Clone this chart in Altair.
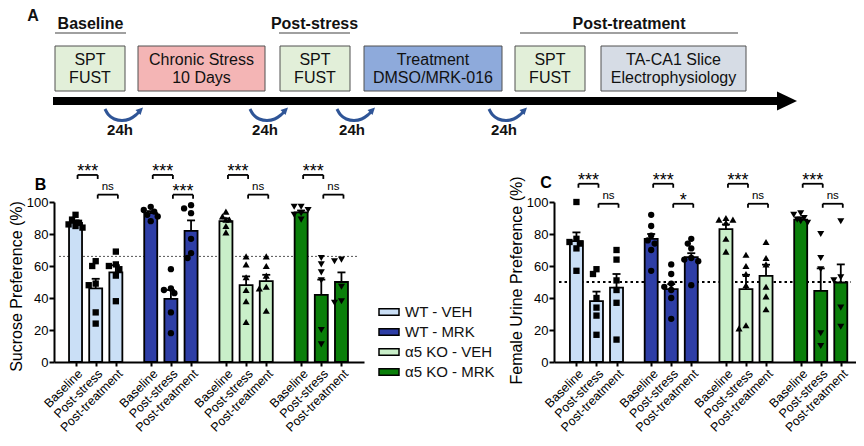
import altair as alt
import pandas as pd

FONT = "Liberation Sans"

# ============================ Panel A (timeline) ============================
box_line1 = ["SPT", "Chronic Stress", "SPT", "Treatment", "SPT", "TA-CA1 Slice"]
box_line2 = ["FUST", "10 Days", "FUST", "DMSO/MRK-016", "FUST", "Electrophysiology"]
box_start = [53, 136, 278, 362, 513, 599]
box_end = [123, 263, 348, 500, 583, 744]
box_fill = ["#e2efd9", "#f4b5b5", "#e2efd9", "#8eaadb", "#e2efd9", "#d6dce5"]

stage_titles = ["Baseline", "Post-stress", "Post-treatment"]
stage_start = [53, 277, 518]
stage_end = [124, 348, 736]

gap_starts = [103, 248, 335, 487]
gap_label = "24h"
timeline_start = 51
timeline_end = 776

curve_dx = [0, 3, 9, 17, 25, 31, 34]
curve_dy = [0, 6, 10.5, 12, 10.5, 6, 3]

# ============================ Panels B / C data ============================
groups = ["WT - VEH", "WT - MRK", "\u03b15 KO - VEH", "\u03b15 KO - MRK"]
phases = ["Baseline", "Post-stress", "Post-treatment"]
group_colors = ["#cadff6", "#2e3ea6", "#c9efc9", "#0a7f0a"]
group_shapes = ["square", "circle", "triangle-up", "triangle-down"]

# Sucrose preference (B)
sp_mean_wt_veh = [87, 46, 56]
sp_mean_wt_mrk = [93, 39.5, 82]
sp_mean_ko_veh = [88, 48, 50.5]
sp_mean_ko_mrk = [93.5, 42, 50]
sp_sem_wt_veh = [1.5, 6, 4.5]
sp_sem_wt_mrk = [1.3, 5.5, 6.5]
sp_sem_ko_veh = [1.8, 5.5, 4]
sp_sem_ko_mrk = [1.2, 9.5, 6]
sp_pts_wt_veh = [[92, 89, 87, 86, 85, 84], [63, 60, 49, 48, 31, 24], [69, 61, 60, 58, 54, 38]]
sp_pts_wt_mrk = [[97, 95, 94, 92, 91, 88], [58, 46, 45, 43, 31, 18], [98, 96, 93, 77, 68, 65]]
sp_pts_ko_veh = [[94, 91, 89, 89, 85, 81], [66, 61, 53, 45, 38, 25], [66, 60, 54, 47, 46, 32]]
sp_pts_ko_mrk = [[97, 97, 95, 93, 92, 89], [65, 61, 56, 51, 20, 11], [64, 63, 47, 38, 37]]
sp_sig_low = ["ns", "***", "ns", "ns"]

# Female urine preference (C)
fu_mean_wt_veh = [75.5, 38, 46.5]
fu_mean_wt_mrk = [77, 45.5, 65.5]
fu_mean_ko_veh = [83, 45.5, 53.8]
fu_mean_ko_mrk = [89, 44.5, 49.7]
fu_sem_wt_veh = [5.5, 6, 8.5]
fu_sem_wt_mrk = [3, 3.2, 2.5]
fu_sem_ko_veh = [3, 9, 7]
fu_sem_ko_mrk = [1.3, 14, 11.3]
fu_pts_wt_veh = [[100, 77, 75, 74, 71, 57], [58, 55, 40, 34, 29, 17], [70, 64, 51, 45, 37, 14]]
fu_pts_wt_mrk = [[92, 85, 79, 76, 74, 70, 57], [61, 55, 49, 47, 45, 40, 27], [77, 74, 71, 65, 64, 63, 48]]
fu_pts_ko_veh = [[90, 89, 89, 87, 77, 69], [67, 60, 55, 48, 23, 21], [75, 65, 61, 47, 41, 33]]
fu_pts_ko_mrk = [[93, 92, 90, 89, 88, 87], [80, 65, 58, 18, 10], [88, 53, 51, 34, 22]]
fu_sig_low = ["ns", "*", "ns", "ns"]

# ============================ Layout (one shared canvas) ============================
W, H = 802, 354          # canvas: x from the B y-axis, y from top down to the x-axes
ORIGIN_X, ORIGIN_Y = 52, 8
Y0_PX, Y100_PX = 354, 194  # y-range of panels B and C (0 -> 100)

# ============================ Panel A chart ============================
def ax(f):
    return alt.X(f, type="quantitative",
                 scale=alt.Scale(domain=[ORIGIN_X, ORIGIN_X + 800], range=[0, 800], nice=False, zero=False),
                 axis=None)


def ay(f):
    return alt.Y(f, type="quantitative",
                 scale=alt.Scale(domain=[ORIGIN_Y, ORIGIN_Y + H], range=[0, H], nice=False, zero=False),
                 axis=None)


boxes = pd.DataFrame(dict(
    x0=box_start, x1=box_end,
    xc=[(a + b) / 2 for a, b in zip(box_start, box_end)],
    y0=[46] * 6, y1=[91] * 6, ty1=[59.5] * 6, ty2=[77.5] * 6,
    fill=box_fill, t1=box_line1, t2=box_line2))
stages = pd.DataFrame(dict(
    x0=stage_start, x1=stage_end,
    xc=[(a + b) / 2 for a, b in zip(stage_start, stage_end)],
    y=[29] * 3, yr=[33] * 3, t=stage_titles))
tl = pd.DataFrame(dict(x0=[timeline_start], x1=[timeline_end], y0=[97], y1=[105],
                       xh=[timeline_end + 9], yh=[101], lab=["A"], lx=[31], ly=[8]))
curve_rows = []
for ci, s in enumerate(gap_starts):
    for k, (dx, dy) in enumerate(zip(curve_dx, curve_dy)):
        curve_rows.append(dict(cid=ci, o=k, x=s + dx, y=109 + dy))
curves = pd.DataFrame(curve_rows)
heads = pd.DataFrame(dict(x=[s + 35.5 for s in gap_starts], y=[110] * 4,
                          tx=[s + 15 for s in gap_starts], ty=[135] * 4, t=[gap_label] * 4))

a_layers = [
    alt.Chart(boxes).mark_rect(stroke="#505050", strokeWidth=1).encode(
        x=ax("x0"), x2="x1", y=ay("y0"), y2="y1", fill=alt.Fill("fill:N", scale=None)),
    alt.Chart(boxes).mark_text(fontSize=16, color="#111", font=FONT).encode(x=ax("xc"), y=ay("ty1"), text="t1:N"),
    alt.Chart(boxes).mark_text(fontSize=16, color="#111", font=FONT).encode(x=ax("xc"), y=ay("ty2"), text="t2:N"),
    alt.Chart(stages).mark_text(fontSize=16, fontWeight="bold", baseline="alphabetic", color="#111", font=FONT).encode(
        x=ax("xc"), y=ay("y"), text="t:N"),
    alt.Chart(stages).mark_rule(color="#808080", strokeWidth=1.5).encode(x=ax("x0"), x2="x1", y=ay("yr")),
    alt.Chart(tl).mark_rect(color="black").encode(x=ax("x0"), x2="x1", y=ay("y0"), y2="y1"),
    alt.Chart(tl).mark_point(shape="M-1,-0.95L1,0L-1,0.95Z", filled=True, size=400, color="black", opacity=1).encode(
        x=ax("xh"), y=ay("yh")),
    alt.Chart(tl).mark_text(fontSize=16, fontWeight="bold", baseline="top", color="#111", font=FONT).encode(
        x=ax("lx"), y=ay("ly"), text="lab:N"),
    alt.Chart(curves).mark_line(color="#2f5597", strokeWidth=3, interpolate="basis").encode(
        x=ax("x"), y=ay("y"), detail="cid:N", order="o:Q"),
    alt.Chart(heads).mark_point(shape="M-1,-1L1,0L-1,1Z", filled=True, size=50, angle=315, color="#2f5597",
                                opacity=1).encode(x=ax("x"), y=ay("y")),
    alt.Chart(heads).mark_text(fontSize=15, fontWeight="bold", baseline="alphabetic", color="#111", font=FONT).encode(
        x=ax("tx"), y=ay("ty"), text="t:N"),
]
panel_a = alt.layer(*a_layers)

# ============================ Panels B / C ============================
GAP = 3.73
positions = [g * GAP + i for g in range(4) for i in range(3)]
kexpr = f"(round(datum.value*100) % {int(round(GAP * 100))})"
label_expr = f"{kexpr} == 0 ? '{phases[0]}' : {kexpr} == 100 ? '{phases[1]}' : '{phases[2]}'"
shape_sizes = {"square": 40, "circle": 40, "triangle-up": 50, "triangle-down": 50}


def swarm(vals, pxx, pxy, d=6.0):
    placed, offs = [], []
    cands = [0, -0.6, 0.6, -1.2, 1.2]
    for v in vals:
        best = None
        for c in cands:
            xo = c * d
            if all((xo - px) ** 2 + ((v - pv) * pxy) ** 2 >= 0.75 * d * d for px, pv in placed):
                best = xo
                break
        if best is None:
            best = 0
        placed.append((best, v))
        offs.append(best / pxx)
    return offs


def make_panel(letter, ytitle, means, sems, pts, ref_y, ref_dash, ref_w, ref_color,
               top_y, low_y, low_labels, xdom, xrange, letter_dx, letter_y, title_y, legend):
    pxx = (xrange[1] - xrange[0]) / (xdom[1] - xdom[0])
    pxy = (Y0_PX - Y100_PX) / 100.0
    xaxis = alt.Axis(values=positions, labelExpr=label_expr, labelAngle=-45, labelOverlap=False,
                     labelFlush=False, grid=False, title=None, orient="bottom",
                     labelFontSize=12.5, labelFont=FONT, labelColor="black", labelPadding=1,
                     tickColor="black", tickWidth=2, tickSize=4, domainColor="black", domainWidth=2)
    yaxis = alt.Axis(values=[0, 20, 40, 60, 80, 100], grid=False, orient="left", offset=-xrange[0],
                     domainColor="black", domainWidth=2, title=ytitle,
                     titleFontSize=16, titleFontWeight="normal", titleFont=FONT, titleColor="black",
                     titleX=-30, titleY=title_y, titleAngle=270, titleAlign="center", titleBaseline="bottom",
                     labelFontSize=13, labelFont=FONT, labelColor="black", labelPadding=1, labelOverlap=False,
                     tickColor="black", tickWidth=2, tickSize=5)

    def X(f):
        return alt.X(f"{f}:Q", scale=alt.Scale(domain=xdom, range=xrange, nice=False, zero=False), axis=xaxis)

    def Y(f):
        return alt.Y(f"{f}:Q", scale=alt.Scale(domain=[0, 100], range=[Y0_PX, Y100_PX], nice=False, zero=False),
                     axis=yaxis)

    bar_rows, pt_rows = [], []
    for g, grp in enumerate(groups):
        for i, ph in enumerate(phases):
            p = g * GAP + i
            bar_rows.append(dict(x=p, y=means[g][i], top=means[g][i] + sems[g][i], zero=0, group=grp))
            vals = pts[g][i]
            for v, o in zip(vals, swarm(vals, pxx, pxy)):
                pt_rows.append(dict(x=p + o, v=v, shp=group_shapes[g], sz=shape_sizes[group_shapes[g]]))
    bars = pd.DataFrame(bar_rows)
    ptsdf = pd.DataFrame(pt_rows)

    br_rows, leg_rows, txt_rows = [], [], []
    for g in range(4):
        for (i, j, yb, lab) in [(0, 1, top_y, "***"), (1, 2, low_y, low_labels[g])]:
            x0 = g * GAP + i + 0.1
            x1 = g * GAP + j + 0.1
            br_rows.append(dict(x0=x0, x1=x1, yb=yb))
            leg_rows.append(dict(xl=x0, yb=yb, yl=yb - 2.5))
            leg_rows.append(dict(xl=x1, yb=yb, yl=yb - 2.5))
            star = lab.startswith("*")
            txt_rows.append(dict(xm=(x0 + x1) / 2, yt=yb + (-1.3 if star else 3.1), label=lab,
                                 fs=18 if star else 11.5))
    brdf = pd.DataFrame(br_rows)
    legdf = pd.DataFrame(leg_rows)
    txtdf = pd.DataFrame(txt_rows)
    refdf = pd.DataFrame(dict(y=[ref_y], x0=[xdom[0]], x1=[xdom[1]]))
    misc = pd.DataFrame(dict(lx=[xdom[0] - letter_dx / pxx], ly=[letter_y], lab=[letter]))

    if legend:
        leg = alt.Legend(orient="none", legendX=324, legendY=293, title=None,
                         symbolType="M-1,-0.32L1,-0.32L1,0.32L-1,0.32Z", symbolSize=400,
                         symbolStrokeColor="black", symbolStrokeWidth=1.5, symbolOpacity=1,
                         labelFontSize=15, labelFont=FONT, labelColor="#111", labelOffset=5, rowPadding=1)
    else:
        leg = None

    layers = [
        alt.Chart(refdf).mark_rule(strokeDash=ref_dash, strokeWidth=ref_w, color=ref_color).encode(
            x=X("x0"), x2="x1:Q", y=Y("y")),
        alt.Chart(bars).mark_bar(size=13, stroke="black", strokeWidth=1.8, opacity=1).encode(
            x=X("x"), y=Y("y"), y2="zero:Q",
            color=alt.Color("group:N", scale=alt.Scale(domain=groups, range=group_colors), legend=leg)),
        alt.Chart(bars).mark_rule(color="black", strokeWidth=1.8).encode(x=X("x"), y=Y("y"), y2="top:Q"),
        alt.Chart(bars).mark_tick(orient="horizontal", size=8, thickness=1.8, color="black", opacity=1).encode(
            x=X("x"), y=Y("top")),
        alt.Chart(ptsdf).mark_point(filled=True, color="black", opacity=1, strokeWidth=0).encode(
            x=X("x"), y=Y("v"), shape=alt.Shape("shp:N", scale=None), size=alt.Size("sz:Q", scale=None)),
        alt.Chart(brdf).mark_rule(color="black", strokeWidth=1.8).encode(x=X("x0"), x2="x1:Q", y=Y("yb")),
        alt.Chart(legdf).mark_rule(color="black", strokeWidth=1.8).encode(x=X("xl"), y=Y("yb"), y2="yl:Q"),
        alt.Chart(txtdf).mark_text(baseline="alphabetic", align="center", font=FONT, color="black").encode(
            x=X("xm"), y=Y("yt"), text="label:N", size=alt.Size("fs:Q", scale=None)),
        alt.Chart(misc).mark_text(baseline="alphabetic", align="center", font=FONT, fontSize=16,
                                  fontWeight="bold", color="black").encode(x=X("lx"), y=Y("ly"), text="lab:N"),
    ]
    return alt.layer(*layers)


panel_b = make_panel(
    "B", "Sucrose Preference (%)",
    [sp_mean_wt_veh, sp_mean_wt_mrk, sp_mean_ko_veh, sp_mean_ko_mrk],
    [sp_sem_wt_veh, sp_sem_wt_mrk, sp_sem_ko_veh, sp_sem_ko_mrk],
    [sp_pts_wt_veh, sp_pts_wt_mrk, sp_pts_ko_veh, sp_pts_ko_mrk],
    66, [2, 2], 1, "#555555", 116.9, 104.6, sp_sig_low,
    [-0.82, 14.06], [0, 310], 19, 107.5, 278, True)

panel_c = make_panel(
    "C", "Female Urine Preference (%)",
    [fu_mean_wt_veh, fu_mean_wt_mrk, fu_mean_ko_veh, fu_mean_ko_mrk],
    [fu_sem_wt_veh, fu_sem_wt_mrk, fu_sem_ko_veh, fu_sem_ko_mrk],
    [fu_pts_wt_veh, fu_pts_wt_mrk, fu_pts_ko_veh, fu_pts_ko_mrk],
    50, [2.5, 3], 2.2, "black", 111.4, 98.9, fu_sig_low,
    [-0.87, 13.70], [500, 802], 13.5, 108.7, 272, False)

chart = alt.layer(panel_a, panel_b, panel_c).resolve_scale(
    x="independent", y="independent", color="independent"
).properties(
    width=W, height=H, padding={"left": 0, "top": 0, "right": 0, "bottom": 0}
).configure(font=FONT).configure_view(strokeWidth=0)

chart.save("out.html", embed_options={"renderer": "svg", "actions": False})
